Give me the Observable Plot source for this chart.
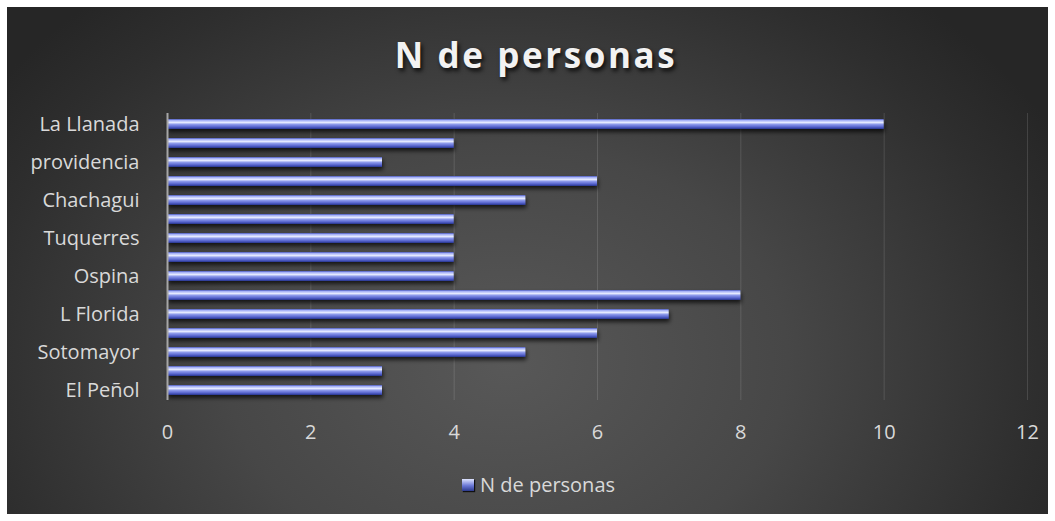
<!DOCTYPE html>
<html><head><meta charset="utf-8">
<script src="https://cdn.jsdelivr.net/npm/d3@7"></script>
<script src="https://cdn.jsdelivr.net/npm/@observablehq/plot@0.6"></script>
<style>
html,body{margin:0;padding:0;background:#fff;}
#wrap{position:relative;width:1055px;height:521px;overflow:hidden;}
#bg{position:absolute;left:7px;top:7px;width:1041px;height:507px;
 background:radial-gradient(ellipse 60% 95% at 48% 70%, #585858 0%, #474747 45%, #2e2e2e 85%, #262626 100%);}
#title{position:absolute;left:0;width:1072px;top:37px;line-height:1;text-align:center;font-family:"Open Sans",sans-serif;font-weight:bold;font-size:35px;letter-spacing:2.6px;color:#f2f2f2;text-shadow:2px 3px 4px rgba(0,0,0,0.8);}
#legend{position:absolute;left:462px;top:471px;font-family:"Open Sans",sans-serif;font-size:20px;color:#d9d9d9;display:flex;align-items:center;}
#legend span.sw{display:inline-block;width:12px;height:12px;margin-right:6px;background:linear-gradient(#dfe4ff,#6b78d6 55%,#2c3a8c);box-shadow:1px 1px 1px #111;}
#chart{position:absolute;left:0;top:0;}
</style></head>
<body>
<div id="wrap">
 <div id="bg"></div>
 <div id="title">N de personas</div>
 <div id="chart"></div>
 <div id="legend"><span class="sw"></span>N de personas</div>
</div>
<script>
// bottom to top
const categories = ["El Peñol","","Sotomayor","","L Florida","","Ospina","","Tuquerres","","Chachagui","","providencia","","La Llanada"];
const values = [3,3,5,6,7,8,4,4,4,4,5,6,3,4,10];
const xTicks = [0,2,4,6,8,10,12];

const data = values.map((v,i)=>({i, label: categories[i], v}));
const order = d3.range(categories.length - 1, -1, -1);

const chart = Plot.plot({
  width: 1055,
  height: 521,
  marginLeft: 167,
  marginRight: 28,
  marginTop: 113,
  marginBottom: 121,
  style: {background: "transparent", fontFamily: "'Open Sans', sans-serif", fontSize: "20px", color: "#d9d9d9"},
  x: {domain: [0, 12], ticks: xTicks, tickSize: 0, tickPadding: 24, label: null},
  y: {domain: order, tickFormat: i => categories[i], tickSize: 0, tickPadding: 28, label: null, paddingInner: 0.5, paddingOuter: 0.25},
  marks: [
    Plot.gridX(xTicks.filter(t => t > 0), {stroke: "#ffffff", strokeOpacity: 0.13, strokeWidth: 1}),
    Plot.barX(data, {x: "v", y: "i", fill: "url(#barGrad)"}),
    Plot.ruleX([0], {stroke: "#a6a6a6", strokeWidth: 2})
  ]
});

// gradient + shadow defs
const ns = "http://www.w3.org/2000/svg";
const defs = document.createElementNS(ns, "defs");
defs.innerHTML = `
<linearGradient id="barGrad" x1="0" y1="0" x2="0" y2="1">
  <stop offset="0" stop-color="#4656bc"/>
  <stop offset="0.15" stop-color="#a9b4f7"/>
  <stop offset="0.35" stop-color="#e4e9ff"/>
  <stop offset="0.55" stop-color="#8a97ea"/>
  <stop offset="0.8" stop-color="#5462cc"/>
  <stop offset="1" stop-color="#28348c"/>
</linearGradient>
<filter id="shadow" x="-5%" y="-50%" width="110%" height="250%">
  <feDropShadow dx="1" dy="3" stdDeviation="2" flood-color="#000" flood-opacity="0.7"/>
</filter>`;
chart.insertBefore(defs, chart.firstChild);
chart.querySelectorAll("g[aria-label='bar'] rect").forEach(r => r.setAttribute("filter", "url(#shadow)"));
chart.querySelectorAll("g[aria-label$='axis'] text, g[aria-label*='tick label'] text").forEach(t => t.setAttribute("fill", "#d9d9d9"));
document.getElementById("chart").appendChild(chart);
</script>
</body></html>
